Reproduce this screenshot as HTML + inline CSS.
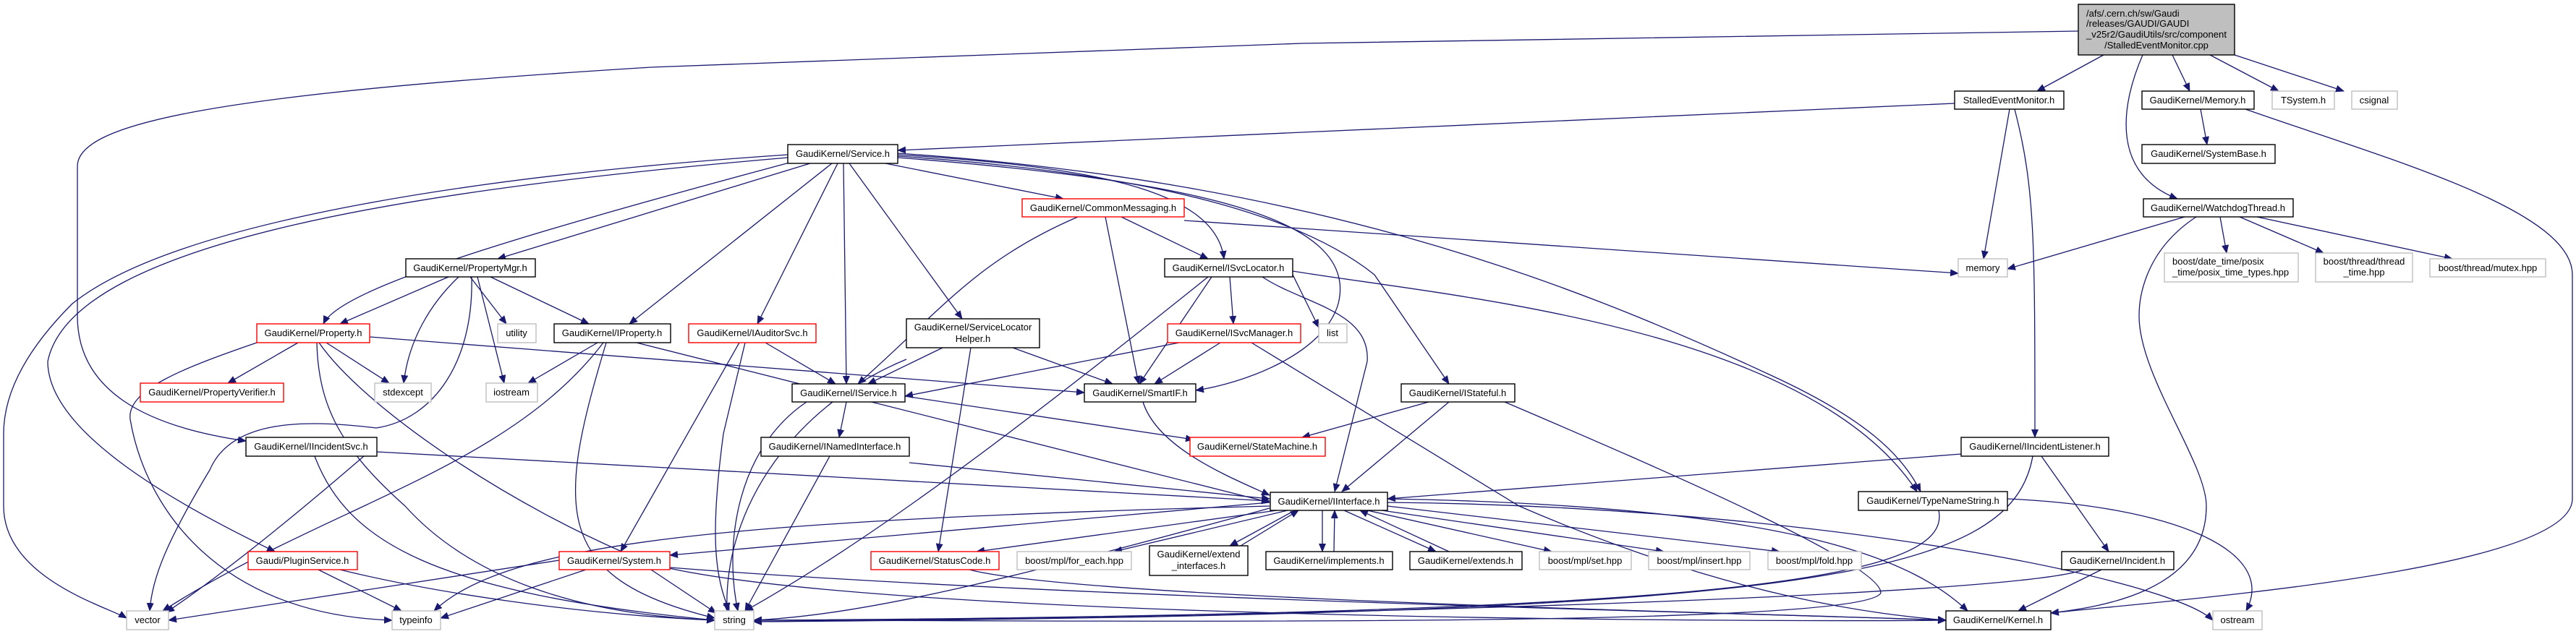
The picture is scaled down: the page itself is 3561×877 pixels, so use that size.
<!DOCTYPE html>
<html><head><meta charset="utf-8"><style>
html,body{margin:0;padding:0;background:#fff;width:3561px;height:877px;overflow:hidden}
svg{display:block}
text{font-family:"Liberation Sans",sans-serif;font-size:13px;fill:#000}
.e{fill:none;stroke:#191970;stroke-width:1.3}
.b{fill:#fff;stroke:#000;stroke-width:1.4}
.r{fill:#fff;stroke:#ff0000;stroke-width:1.4}
.g{fill:#fff;stroke:#bfbfbf;stroke-width:1.4}
</style></head><body>
<svg width="3561" height="877" viewBox="0 0 3561 877" xmlns="http://www.w3.org/2000/svg">
<defs><marker id="a" markerWidth="12" markerHeight="10" refX="11" refY="5" orient="auto" markerUnits="userSpaceOnUse"><path d="M0,0 L12,5 L0,10 Z" fill="#191970"/></marker></defs>
<g class="e" marker-end="url(#a)">
<path d="M2908,76 L2816,126"/>
<path d="M3003,76 L3027,126"/>
<path d="M3055,76 L3150,126"/>
<path d="M3089,76 L3240,126"/>
<path d="M2962,76 C2930,150 2920,240 3010,275"/>
<path d="M2873,43 L1800,60 L900,93 C300,130 107,170 107,230 L107,437 C107,540 200,590 340,610"/>
<path d="M2702,143 L1800,183 L1241,208"/>
<path d="M2778,151 L2742,358"/>
<path d="M2785,151 C2813,260 2813,330 2813,605"/>
<path d="M3042,151 L3051,200"/>
<path d="M3104,151 C3300,220 3556,290 3556,380 L3556,690 C3556,790 3000,830 2835,848"/>
<path d="M3020,300 L2775,372"/>
<path d="M3069,300 L3078,350"/>
<path d="M3096,300 L3212,350"/>
<path d="M3120,300 L3390,358"/>
<path d="M3036,300 C2960,350 2957,420 2957,437 C2957,520 3050,640 3050,700 C3050,820 2900,840 2835,848"/>
<path d="M1224,226 L1470,275"/>
<path d="M1241,214 C1500,230 1680,260 1692,358"/>
<path d="M1241,216 C1600,240 1800,300 1900,380 L2003,531"/>
<path d="M1241,218 C1650,250 1880,300 1850,420 C1830,490 1720,530 1653,540"/>
<path d="M1241,212 C1800,250 2150,380 2450,520 C2580,580 2630,630 2655,680"/>
<path d="M1095,224 C700,330 470,400 447,448"/>
<path d="M1120,226 L688,358"/>
<path d="M1150,226 L870,448"/>
<path d="M1158,226 L1047,448"/>
<path d="M1166,226 L1170,531"/>
<path d="M1174,226 L1330,441"/>
<path d="M1089,214 C700,240 250,300 100,420 C20,500 5,560 5,600 L5,700 C5,800 150,840 175,855"/>
<path d="M1089,218 C600,260 100,330 66,500 C66,600 250,700 380,763"/>
<path d="M1490,300 C1350,360 1300,430 1186,531"/>
<path d="M1528,300 L1574,531"/>
<path d="M1550,300 L1670,358"/>
<path d="M1637,305 L2707,378"/>
<path d="M620,383 L470,448"/>
<path d="M678,383 L814,448"/>
<path d="M634,383 C595,420 565,470 558,530"/>
<path d="M650,383 L700,448"/>
<path d="M660,383 L697,530"/>
<path d="M652,383 C655,500 600,580 520,592 C420,580 320,580 290,650 C230,750 210,800 207,845"/>
<path d="M412,474 L315,530"/>
<path d="M451,474 L538,530"/>
<path d="M355,474 C250,510 175,540 180,580 C200,700 300,850 542,858"/>
<path d="M438,474 C440,560 470,620 560,700 C650,800 800,850 988,858"/>
<path d="M441,474 C500,560 700,700 900,780 C1200,860 2500,860 2690,858"/>
<path d="M511,466 L1499,543"/>
<path d="M826,474 L730,530"/>
<path d="M834,474 C700,650 450,700 225,845"/>
<path d="M838,474 C770,700 760,800 988,855"/>
<path d="M880,474 L1755,695"/>
<path d="M1058,474 L1155,531"/>
<path d="M1022,474 L858,763"/>
<path d="M1030,474 L1000,600 C980,750 990,800 1008,845"/>
<path d="M1303,481 L1200,531"/>
<path d="M1400,481 L1538,531"/>
<path d="M1342,481 L1297,763"/>
<path d="M1253,497 C1100,560 1000,700 1005,845"/>
<path d="M1787,380 L1823,453"/>
<path d="M1675,383 L1575,531"/>
<path d="M1700,383 L1705,448"/>
<path d="M1745,383 C1800,420 1895,430 1890,500 L1845,680"/>
<path d="M1670,383 C1400,600 1200,750 1030,845"/>
<path d="M1787,375 C2000,410 2500,450 2650,680"/>
<path d="M1630,474 L1251,548"/>
<path d="M1687,474 L1596,531"/>
<path d="M1730,474 L2100,700 C2400,830 2600,850 2690,858"/>
<path d="M1170,556 L1160,605"/>
<path d="M1251,548 L1650,608"/>
<path d="M1115,556 C1020,620 1000,750 1020,845"/>
<path d="M1580,556 C1600,620 1700,660 1755,685"/>
<path d="M1975,556 L1800,605"/>
<path d="M2003,556 L1855,680"/>
<path d="M2080,556 C2300,650 2600,780 2600,820 C2580,870 1500,858 1042,858"/>
<path d="M1257,640 L1755,690"/>
<path d="M1147,631 L1030,845"/>
<path d="M521,625 L1755,693"/>
<path d="M503,631 C400,720 300,800 230,847"/>
<path d="M435,631 C480,750 600,820 988,858"/>
<path d="M2711,628 L1918,690"/>
<path d="M2822,631 L2915,763"/>
<path d="M2810,631 C2780,800 2500,850 1042,860"/>
<path d="M1755,695 L926,768"/>
<path d="M1765,706 L1350,763"/>
<path d="M1780,706 L1540,763"/>
<path d="M1790,706 L1700,755"/>
<path d="M1715,755 L1795,706"/>
<path d="M1828,706 L1828,763"/>
<path d="M1844,763 L1845,706"/>
<path d="M1858,706 L1985,763"/>
<path d="M2003,763 L1880,706"/>
<path d="M1890,706 L2145,763"/>
<path d="M1910,706 L2300,763"/>
<path d="M1918,700 L2460,763"/>
<path d="M1755,700 C1000,720 700,750 600,845"/>
<path d="M1918,695 C2500,700 3000,800 3059,858"/>
<path d="M1918,690 C2500,700 2650,780 2720,845"/>
<path d="M1755,703 C1400,800 1200,850 1042,858"/>
<path d="M2680,706 C2700,800 2400,850 1042,858"/>
<path d="M2775,690 C3000,700 3150,760 3105,845"/>
<path d="M773,775 L233,858"/>
<path d="M810,788 L609,855"/>
<path d="M900,788 L990,848"/>
<path d="M926,785 C1500,830 2500,850 2690,858"/>
<path d="M440,788 L555,845"/>
<path d="M470,788 C600,820 800,850 988,858"/>
<path d="M1340,788 C1500,830 2500,850 2690,858"/>
<path d="M2905,788 L2790,845"/>
<path d="M2880,788 C2800,820 2000,850 1042,860"/>
</g>
<rect x="2873" y="6" width="216" height="70" fill="#bfbfbf" stroke="#000" stroke-width="1.4"/>
<text x="2884" y="23">/afs/.cern.ch/sw/Gaudi</text>
<text x="2884" y="37">/releases/GAUDI/GAUDI</text>
<text x="2884" y="52" textLength="194" lengthAdjust="spacingAndGlyphs">_v25r2/GaudiUtils/src/component</text>
<text x="2981" y="67" text-anchor="middle">/StalledEventMonitor.cpp</text>
<g font-size="13">
<rect class="b" x="2702" y="126" width="151" height="25"/><text x="2777" y="143" text-anchor="middle">StalledEventMonitor.h</text>
<rect class="b" x="2961" y="126" width="155" height="25"/><text x="3038" y="143" text-anchor="middle">GaudiKernel/Memory.h</text>
<rect class="g" x="3141" y="126" width="86" height="25"/><text x="3184" y="143" text-anchor="middle">TSystem.h</text>
<rect class="g" x="3251" y="126" width="63" height="25"/><text x="3282" y="143" text-anchor="middle">csignal</text>
<rect class="b" x="1089" y="200" width="152" height="26"/><text x="1165" y="217" text-anchor="middle">GaudiKernel/Service.h</text>
<rect class="b" x="2961" y="200" width="184" height="26"/><text x="3053" y="217" text-anchor="middle">GaudiKernel/SystemBase.h</text>
<rect class="r" x="1413" y="275" width="224" height="25"/><text x="1525" y="292" text-anchor="middle">GaudiKernel/CommonMessaging.h</text>
<rect class="b" x="2963" y="275" width="207" height="25"/><text x="3066" y="292" text-anchor="middle">GaudiKernel/WatchdogThread.h</text>
<rect class="b" x="561" y="358" width="179" height="25"/><text x="650" y="375" text-anchor="middle">GaudiKernel/PropertyMgr.h</text>
<rect class="b" x="1610" y="358" width="177" height="25"/><text x="1698" y="375" text-anchor="middle">GaudiKernel/ISvcLocator.h</text>
<rect class="g" x="2707" y="358" width="68" height="25"/><text x="2741" y="375" text-anchor="middle">memory</text>
<rect class="g" x="2992" y="350" width="185" height="40"/><text x="3003" y="366">boost/date_time/posix</text><text x="3003" y="381">_time/posix_time_types.hpp</text>
<rect class="g" x="3201" y="350" width="134" height="40"/><text x="3268" y="366" text-anchor="middle">boost/thread/thread</text><text x="3268" y="381" text-anchor="middle">_time.hpp</text>
<rect class="g" x="3359" y="358" width="160" height="25"/><text x="3439" y="375" text-anchor="middle">boost/thread/mutex.hpp</text>
<rect class="r" x="355" y="448" width="156" height="26"/><text x="433" y="465" text-anchor="middle">GaudiKernel/Property.h</text>
<rect class="g" x="688" y="448" width="53" height="26"/><text x="714" y="465" text-anchor="middle">utility</text>
<rect class="b" x="766" y="448" width="161" height="26"/><text x="846" y="465" text-anchor="middle">GaudiKernel/IProperty.h</text>
<rect class="r" x="952" y="448" width="176" height="26"/><text x="1040" y="465" text-anchor="middle">GaudiKernel/IAuditorSvc.h</text>
<rect class="b" x="1253" y="441" width="184" height="40"/><text x="1345" y="457" text-anchor="middle">GaudiKernel/ServiceLocator</text><text x="1345" y="473" text-anchor="middle">Helper.h</text>
<rect class="r" x="1614" y="448" width="184" height="26"/><text x="1706" y="465" text-anchor="middle">GaudiKernel/ISvcManager.h</text>
<rect class="g" x="1823" y="448" width="39" height="26"/><text x="1842" y="465" text-anchor="middle">list</text>
<rect class="r" x="194" y="530" width="198" height="26"/><text x="293" y="547" text-anchor="middle">GaudiKernel/PropertyVerifier.h</text>
<rect class="g" x="518" y="530" width="78" height="26"/><text x="557" y="547" text-anchor="middle">stdexcept</text>
<rect class="g" x="672" y="530" width="71" height="26"/><text x="707" y="547" text-anchor="middle">iostream</text>
<rect class="b" x="1095" y="531" width="156" height="25"/><text x="1173" y="548" text-anchor="middle">GaudiKernel/IService.h</text>
<rect class="b" x="1499" y="531" width="154" height="25"/><text x="1576" y="548" text-anchor="middle">GaudiKernel/SmartIF.h</text>
<rect class="b" x="1937" y="531" width="157" height="25"/><text x="2015" y="548" text-anchor="middle">GaudiKernel/IStateful.h</text>
<rect class="b" x="340" y="605" width="181" height="26"/><text x="430" y="622" text-anchor="middle">GaudiKernel/IIncidentSvc.h</text>
<rect class="b" x="1052" y="605" width="205" height="26"/><text x="1154" y="622" text-anchor="middle">GaudiKernel/INamedInterface.h</text>
<rect class="r" x="1645" y="605" width="187" height="26"/><text x="1738" y="622" text-anchor="middle">GaudiKernel/StateMachine.h</text>
<rect class="b" x="2711" y="605" width="204" height="26"/><text x="2813" y="622" text-anchor="middle">GaudiKernel/IIncidentListener.h</text>
<rect class="b" x="1756" y="681" width="162" height="25"/><text x="1837" y="698" text-anchor="middle">GaudiKernel/IInterface.h</text>
<rect class="b" x="2569" y="680" width="206" height="26"/><text x="2672" y="697" text-anchor="middle">GaudiKernel/TypeNameString.h</text>
<rect class="r" x="343" y="763" width="151" height="25"/><text x="418" y="780" text-anchor="middle">Gaudi/PluginService.h</text>
<rect class="r" x="773" y="763" width="153" height="25"/><text x="849" y="780" text-anchor="middle">GaudiKernel/System.h</text>
<rect class="r" x="1204" y="763" width="177" height="25"/><text x="1292" y="780" text-anchor="middle">GaudiKernel/StatusCode.h</text>
<rect class="g" x="1406" y="763" width="158" height="25"/><text x="1485" y="780" text-anchor="middle">boost/mpl/for_each.hpp</text>
<rect class="b" x="1589" y="755" width="136" height="41"/><text x="1657" y="771" text-anchor="middle">GaudiKernel/extend</text><text x="1657" y="787" text-anchor="middle">_interfaces.h</text>
<rect class="b" x="1750" y="763" width="175" height="25"/><text x="1837" y="780" text-anchor="middle">GaudiKernel/implements.h</text>
<rect class="b" x="1949" y="763" width="155" height="25"/><text x="2026" y="780" text-anchor="middle">GaudiKernel/extends.h</text>
<rect class="g" x="2128" y="763" width="127" height="25"/><text x="2191" y="780" text-anchor="middle">boost/mpl/set.hpp</text>
<rect class="g" x="2279" y="763" width="140" height="25"/><text x="2349" y="780" text-anchor="middle">boost/mpl/insert.hpp</text>
<rect class="g" x="2444" y="763" width="129" height="25"/><text x="2508" y="780" text-anchor="middle">boost/mpl/fold.hpp</text>
<rect class="b" x="2850" y="763" width="155" height="25"/><text x="2927" y="780" text-anchor="middle">GaudiKernel/Incident.h</text>
<rect class="g" x="175" y="845" width="58" height="26"/><text x="204" y="862" text-anchor="middle">vector</text>
<rect class="g" x="542" y="845" width="67" height="26"/><text x="575" y="862" text-anchor="middle">typeinfo</text>
<rect class="g" x="988" y="845" width="54" height="26"/><text x="1015" y="862" text-anchor="middle">string</text>
<rect class="b" x="2690" y="845" width="145" height="26"/><text x="2762" y="862" text-anchor="middle">GaudiKernel/Kernel.h</text>
<rect class="g" x="3059" y="845" width="68" height="26"/><text x="3093" y="862" text-anchor="middle">ostream</text>
</g>
</svg>
</body></html>
